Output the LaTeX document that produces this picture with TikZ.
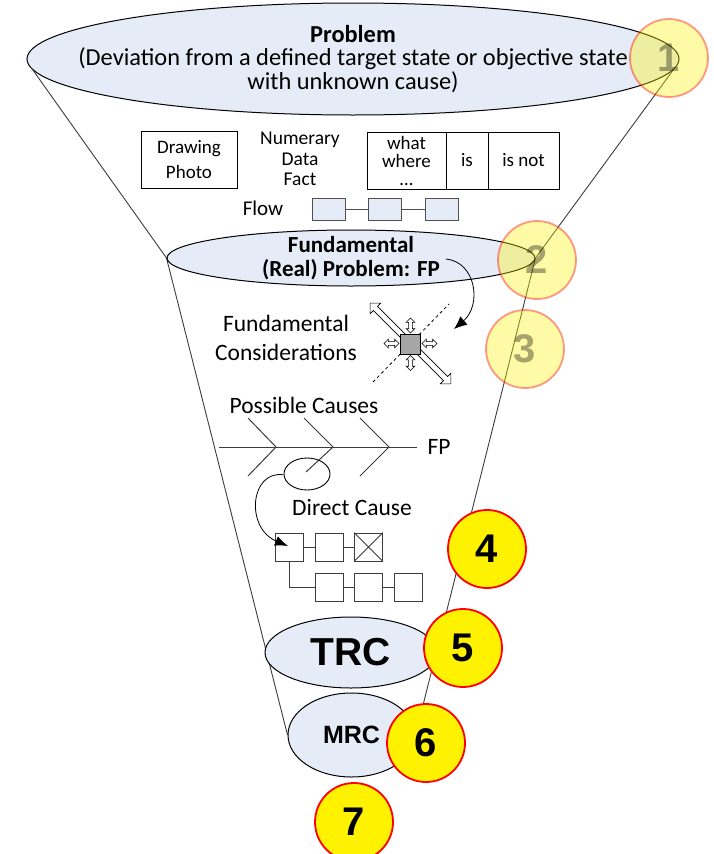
\documentclass[tikz,border=0pt]{standalone}
\usepackage{fontspec}
\setmainfont{Carlito}
\newfontfamily\arialfont{Liberation Sans}
\usetikzlibrary{shapes.geometric,shapes.arrows,arrows.meta,backgrounds}
\definecolor{ellfill}{RGB}{230,236,247}
\definecolor{linegray}{RGB}{60,60,60}
\definecolor{boxgray}{RGB}{80,80,80}
\definecolor{sqgray}{RGB}{166,166,166}
\begin{document}
\begin{tikzpicture}[x=1pt,y=-1pt,
  ell/.style={ellipse, draw=black, line width=1pt, fill=ellfill, inner sep=0pt, align=center},
  funnel/.style={draw=linegray, line width=0.9pt},
  txt/.style={font=\fontsize{23.5}{29}\selectfont, align=center, inner sep=0pt},
  smalltxt/.style={font=\fontsize{19.5}{20.5}\selectfont, align=center, inner sep=0pt},
  plainbox/.style={draw=black, line width=0.8pt, fill=white, inner sep=0pt, align=center, font=\fontsize{19}{25}\selectfont},
  flowbox/.style={draw=boxgray, line width=0.9pt, fill=ellfill, minimum width=33pt, minimum height=22pt, inner sep=0pt},
  causebox/.style={draw=linegray, line width=0.9pt, fill=white, minimum size=28pt, inner sep=0pt},
  fishline/.style={draw=linegray, line width=1pt},
  badge/.style={circle, draw=red, line width=1.8pt, fill=yellow, minimum size=78pt, inner sep=0pt, font=\arialfont\bfseries\fontsize{40}{40}\selectfont},
  fadebadge/.style={badge, draw opacity=0.4, fill opacity=0.35, text opacity=0.35},
  hollowarrow/.style={double arrow, draw=black, line width=0.6pt, fill=white, minimum width=0pt, double arrow tip angle=90}
]
\useasboundingbox (0,0) rectangle (713,854);

% ellipses
\node[ell, minimum width=652pt, minimum height=112pt] (top) at (353,59) {};
\node[align=center, inner sep=0pt, font=\fontsize{24.4}{23.5}\selectfont] (toptext) at (top.center) {\textbf{Problem}\\(Deviation from a defined target state or objective state\\with unknown cause)};
\node[ell, minimum width=368pt, minimum height=56pt] (fp) at (351,258) {};
\node[align=center, inner sep=0pt, font=\bfseries\fontsize{23}{24}\selectfont] (fptext) at (fp.center) {Fundamental\\(Real) Problem: FP};
\node[ell, minimum width=172pt, minimum height=71pt] (trc) at (351,652.5) {};
\node[font=\arialfont\bfseries\fontsize{39}{39}\selectfont, inner sep=0pt] (trctext) at (trc.center) {TRC};
\node[ell, minimum width=127pt, minimum height=84pt] (mrc) at (351.5,735) {};
\node[font=\arialfont\bfseries\fontsize{25}{25}\selectfont, inner sep=0pt] (mrctext) at (mrc.center) {MRC};

% funnel sides, behind the ellipses
\begin{scope}[on background layer]
\draw[funnel] (top.182) -- (fp.west) -- (mrc.west);
\draw[funnel] (top.-2) -- (fp.east) -- (mrc.east);
\end{scope}

% information boxes
\node[plainbox, minimum width=96pt, minimum height=57pt] (draw) at (189,159.5) {Drawing\\Photo};
\node[smalltxt] (numer) at (300,159) {Numerary\\Data\\Fact};
\node[plainbox, minimum width=79pt, minimum height=57pt, font=\fontsize{19}{18}\selectfont] (t1) at (406.5,160.5) {what\\where\\\ldots};
\node[plainbox, minimum width=42pt, minimum height=57pt] (t2) at (467,160.5) {is};
\node[plainbox, minimum width=71pt, minimum height=57pt] (t3) at (523.5,160.5) {is not};

% flow
\node[font=\fontsize{21}{21}\selectfont, inner sep=0pt] (flow) at (263,208) {Flow};
\node[flowbox] (f1) at (328.5,209) {};
\node[flowbox] (f2) at (385,209) {};
\node[flowbox] (f3) at (441.5,209) {};
\draw[draw=boxgray, line width=0.9pt] (f1) -- (f2) (f2) -- (f3);

% arrow from FP to considerations
\coordinate (fpend) at (446,259);
\coordinate (consend) at (454,329);
\draw[line width=0.8pt, -{Latex[length=13pt,width=11pt]}] (fpend) .. controls (476,262) and (482,305) .. (consend);

% fundamental considerations
\node[txt] (cons) at (286,337.5) {Fundamental\\Considerations};
\coordinate (dl1) at (373,382);
\coordinate (dl2) at (449,304);
\draw[dashed, line width=0.8pt] (dl1) -- (dl2);
\node[hollowarrow, minimum height=114pt, inner sep=2.6pt, double arrow head extend=4.5pt, rotate=-45] (big) at (410.5,343.5) {};
\node[hollowarrow, minimum height=15pt, inner sep=1.6pt, double arrow head extend=2.4pt, rotate=90] (up) at (410.5,325.5) {};
\node[hollowarrow, minimum height=15pt, inner sep=1.6pt, double arrow head extend=2.4pt, rotate=90] (down) at (410.5,363) {};
\node[hollowarrow, minimum height=15pt, inner sep=1.6pt, double arrow head extend=2.4pt] (left) at (391.5,343.5) {};
\node[hollowarrow, minimum height=15pt, inner sep=1.6pt, double arrow head extend=2.4pt] (right) at (429.5,343.5) {};
\node[draw=black, line width=0.9pt, fill=sqgray, minimum size=20pt, inner sep=0pt] (sq) at (410.5,344) {};

% possible causes fishbone
\node[txt] (poss) at (304,405) {Possible Causes};
\node[txt] (fplabel) at (439,447) {FP};
\coordinate (sp0) at (219,447);
\coordinate (sp1) at (417,447);
\draw[fishline] (sp0) -- (sp1);
\coordinate (a1) at (276,447);
\coordinate (a2) at (333,447);
\coordinate (a3) at (389,447);
\draw[fishline] (248,418) -- (a1) -- (248,476);
\draw[fishline] (304,418) -- (a2) -- (306,472);
\draw[fishline] (360,418) -- (a3) -- (360,476);
\node[ellipse, draw=black, line width=0.9pt, minimum width=46pt, minimum height=32pt, inner sep=0pt] (loop) at (307,474) {};

% direct cause
\node[txt] (direct) at (352,507) {Direct Cause};
\node[causebox] (b1) at (289,547) {};
\node[causebox] (b2) at (329,547) {};
\node[causebox] (b3) at (368.5,547) {};
\draw[linegray, line width=0.9pt] (b3.north west) -- (b3.south east) (b3.north east) -- (b3.south west);
\node[causebox] (c1) at (329,587) {};
\node[causebox] (c2) at (368.5,587) {};
\node[causebox] (c3) at (408.5,587) {};
\draw[linegray, line width=0.9pt] (b1) -- (b2) (b2) -- (b3) (c1) -- (c2) (c2) -- (c3);
\draw[linegray, line width=0.9pt] (b1.south) |- (c1.west);
\draw[line width=0.8pt, -{Latex[length=13pt,width=10pt]}] (loop.182) .. controls (250,470) and (245,528) .. ([xshift=-1pt,yshift=1pt]b1.center);

% badges
\node[fadebadge] (n1) at (669,58) {1};
\node[fadebadge] (n2) at (537,260) {2};
\node[fadebadge] (n3) at (525,349) {3};
\node[badge] (n4) at (487,549) {4};
\node[badge] (n5) at (463,648) {5};
\node[badge] (n6) at (426,743) {6};
\node[badge] (n7) at (354,822) {7};
\end{tikzpicture}
\end{document}
